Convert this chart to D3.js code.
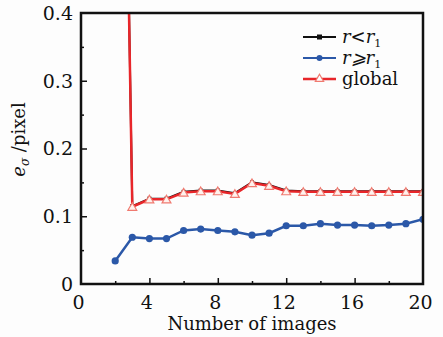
<html>
<style>
  body { margin:0; background:#fdfdfd; }
  text { font-family:"DejaVu Serif", serif; fill:#111; }
</style>
<script src="https://d3js.org/d3.v7.min.js" charset="utf-8"></script>
<body>
<script>
    var images = [2,3,4,5,6,7,8,9,10,11,12,13,14,15,16,17,18,19,20];
    var inner  = [1.62,0.115,0.126,0.126,0.136,0.138,0.138,0.134,0.150,0.146,0.138,0.137,0.137,0.137,0.137,0.137,0.137,0.137,0.137];
    var outer  = [0.034,0.069,0.067,0.067,0.079,0.081,0.079,0.077,0.072,0.075,0.086,0.086,0.089,0.087,0.087,0.086,0.087,0.089,0.0955];
    var global = [1.60,0.114,0.125,0.125,0.135,0.137,0.137,0.133,0.149,0.145,0.137,0.136,0.136,0.136,0.136,0.136,0.136,0.136,0.136];
    var xTicks = [0,4,8,12,16,20];
    var yTicks = [0,0.1,0.2,0.3,0.4];

    // layout
    var margin = { top: 13, right: 20, bottom: 53, left: 81 };
    var W = 443, H = 337;
    var width = W - margin.left - margin.right;
    var height = H - margin.top - margin.bottom;

    var svg = d3.select("body").append("svg")
        .attr("width", W).attr("height", H);
    var g = svg.append("g")
        .attr("transform", "translate(" + margin.left + "," + margin.top + ")");

    var x = d3.scaleLinear().domain([0,20]).range([0,width]);
    var y = d3.scaleLinear().domain([0,0.4]).range([height,0]);

    svg.append("defs").append("clipPath").attr("id","clip")
        .append("rect").attr("width", width).attr("height", height);

    // ticks (inward)
    var xAxis = d3.axisBottom(x).tickValues(d3.range(2,20,2)).tickSize(-5).tickFormat("");
    var yAxis = d3.axisLeft(y).tickValues(d3.range(0.05,0.4,0.05)).tickSize(-5).tickFormat("");
    g.append("g").attr("transform","translate(0,"+height+")").call(xAxis)
        .call(function(s){ s.select(".domain").remove();
            s.selectAll(".tick line").attr("stroke","#111").attr("stroke-width",1.5)
             .attr("y2", function(d){ return (Math.round(d) % 4 == 0) ? -6 : -3; }); });
    g.append("g").call(yAxis)
        .call(function(s){ s.select(".domain").remove();
            s.selectAll(".tick line").attr("stroke","#111").attr("stroke-width",1.5)
             .attr("x2", function(d){ return (Math.round(d*100) % 10 == 0) ? 6 : 3; }); });

    // tick labels
    g.selectAll(".xl").data(xTicks).enter().append("text")
        .attr("x", function(d){ return x(d) - 2.5; })
        .attr("y", height + 25)
        .attr("text-anchor","middle").style("font-size","19px")
        .text(function(d){ return d; });
    g.selectAll(".yl").data(yTicks).enter().append("text")
        .attr("x", -8)
        .attr("y", function(d){ return y(d); })
        .attr("dy","0.36em")
        .attr("text-anchor","end").style("font-size","19px")
        .text(function(d){ return d; });

    // axis titles
    g.append("text").attr("x", width/2).attr("y", height + 46)
        .attr("text-anchor","middle").style("font-size","18px")
        .text("Number of images");
    var yt = g.append("text").attr("transform","translate(-56," + (height/2 - 9) + ") rotate(-90)")
        .attr("text-anchor","middle").style("font-size","18px");
    yt.append("tspan").style("font-style","italic").text("e");
    yt.append("tspan").style("font-style","italic").style("font-size","12px").attr("dy","4").text("σ");
    yt.append("tspan").attr("dy","-4").text(" /pixel");

    // series
    var plot = g.append("g").attr("clip-path","url(#clip)");
    function lineOf(vals) {
        return d3.line().x(function(d,i){ return x(images[i]); })
            .y(function(d){ return y(d); })(vals);
    }
    plot.append("path").attr("d", lineOf(outer)).attr("fill","none")
        .attr("stroke","#2b58a8").attr("stroke-width",2.5);
    plot.selectAll(".bd").data(outer).enter().append("circle")
        .attr("cx", function(d,i){ return x(images[i]); })
        .attr("cy", function(d){ return y(d); })
        .attr("r", 3.6).attr("fill","#2b58a8");

    plot.append("path").attr("d", lineOf(inner)).attr("fill","none")
        .attr("stroke","#111").attr("stroke-width",2);
    plot.selectAll(".sq").data(inner).enter().append("rect")
        .attr("x", function(d,i){ return x(images[i]) - 2; })
        .attr("y", function(d){ return y(d) - 2; })
        .attr("width",4).attr("height",4).attr("fill","#111");
    plot.append("path").attr("d", lineOf(global)).attr("fill","none")
        .attr("stroke","#e8262a").attr("stroke-width",2.5);
    var tri = d3.symbol().type(d3.symbolTriangle).size(34);
    plot.selectAll(".tr").data(global).enter().append("path")
        .attr("d", tri)
        .attr("transform", function(d,i){ return "translate(" + x(images[i]) + "," + (y(d)+1) + ")"; })
        .attr("fill","#fff2ee").attr("stroke","#f07a70").attr("stroke-width",1.2);

    // frame
    g.append("rect").attr("width", width).attr("height", height)
        .attr("fill","none").attr("stroke","#111").attr("stroke-width",2.5);

    // legend
    var legend = [
        { label: "r<r", sub: "1", color: "#111", mark: "sq" },
        { label: "r⩾r", sub: "1", color: "#2b58a8", mark: "ci" },
        { label: "global", sub: "", color: "#e8262a", mark: "tr" }
    ];
    var lg = svg.selectAll(".lg").data(legend).enter().append("g")
        .attr("transform", function(d,i){ return "translate(303," + [37,58,79][i] + ")"; });
    lg.append("line").attr("x1",0).attr("x2",33)
        .attr("stroke", function(d){ return d.color; })
        .attr("stroke-width", function(d){ return d.mark == "tr" ? 2.5 : 2; });
    lg.filter(function(d){ return d.mark == "sq"; }).append("rect")
        .attr("x",14).attr("y",-2.5).attr("width",5).attr("height",5).attr("fill","#111");
    lg.filter(function(d){ return d.mark == "ci"; }).append("circle")
        .attr("cx",16.5).attr("r",3).attr("fill","#2b58a8");
    lg.filter(function(d){ return d.mark == "tr"; }).append("path")
        .attr("d", d3.symbol().type(d3.symbolTriangle).size(30))
        .attr("transform","translate(16.5,0)")
        .attr("fill","#fff").attr("stroke","#f07a70").attr("stroke-width",1.2);
    var lt = lg.append("text").attr("x",39).attr("dy","0.33em").style("font-size","18px");
    lt.append("tspan").style("font-style", function(d){ return d.sub ? "italic" : "normal"; })
        .text(function(d){ return d.label; });
    lt.append("tspan").style("font-size","11px").attr("dy","4")
        .text(function(d){ return d.sub; });
</script>
</body>
</html>
